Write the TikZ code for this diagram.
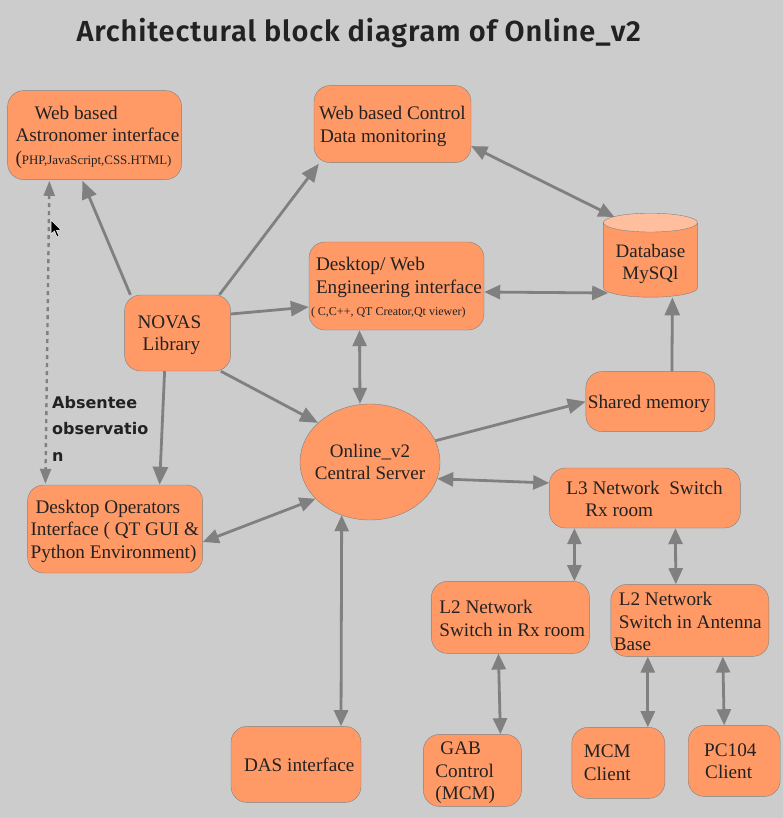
\documentclass[tikz,border=0pt]{standalone}
\usepackage{fontspec}
\setmainfont{Liberation Serif}
\newfontfamily\titlefont[LetterSpace=3]{Fira Sans SemiBold}
\newfontfamily\notefont{DejaVu Sans}
\usetikzlibrary{positioning,arrows.meta,shapes.geometric}
\definecolor{sheet}{HTML}{CCCCCC}
\definecolor{blockfill}{HTML}{FF9966}
\definecolor{blocktop}{HTML}{FFBF9F}
\definecolor{wire}{HTML}{808080}
\definecolor{ink}{HTML}{222222}
\newcommand{\ind}[1]{\hspace*{#1pt}}
\newcommand{\minor}[2][12.9]{\mbox{\fontsize{#1}{22.5}\selectfont #2}}

\begin{document}
\begin{tikzpicture}[
      x=1pt, y=-1pt,
      drop/.code={\def\dropht{#1}},
      blockbox/.style 2 args={draw=wire, fill=blockfill, text=ink, rounded corners=16pt, inner xsep=0pt, inner ysep=0pt,
        text width=#1, minimum height=#2, align=flush left, font=\fontsize{19.2}{22.5}\selectfont, drop=17.5pt,
        execute at begin node={\rule{0pt}{\dropht}}},
      hub/.style={draw=wire, fill=blockfill, text=ink, ellipse, inner xsep=-6pt, inner ysep=0pt, minimum width=140pt, minimum height=116pt,
        align=center, font=\fontsize{19}{22.5}\selectfont},
      store/.style={draw=wire, text=ink, cylinder, shape border rotate=90, aspect=0.27, cylinder uses custom fill,
        cylinder body fill=blockfill, cylinder end fill=blocktop, inner sep=0pt, minimum width=94pt, minimum height=84pt,
        align=center, font=\fontsize{19}{22.5}\selectfont},
      flow/.style={draw=wire, line width=2.8pt, -{Triangle[length=18pt,width=15pt]}},
      both/.style={draw=wire, line width=2.8pt, {Triangle[length=16pt,width=14pt]}-{Triangle[length=16pt,width=14pt]}},
      absent/.style={draw=wire, line width=2.4pt, dash pattern=on 4pt off 4pt, {Triangle[length=15pt,width=11pt]}-{Triangle[length=15pt,width=11pt]}}
    ]
    \fill[sheet] (0,0) rectangle (783,818);
    \useasboundingbox (0,0) rectangle (783,818);

    \node[anchor=west, text=ink, font=\titlefont\fontsize{29}{32}\selectfont] (title) at (73,33)
      {Architectural block diagram of Online\_v2};

    \node[hub] (server) at (370,462) {Online\_v2\\Central Server};
    \node[blockbox={106pt}{76pt}, left=69pt of server.west, yshift=129pt] (novas)
      {\ind{13}NOVAS\\\ind{18}Library};
    \node[blockbox={174pt}{89pt}, above=115pt of novas.north, xshift=-83pt] (astro)
      {\ind{27}Web based\\\ind{8}Astronomer interface\\\ind{8}(\minor{PHP,JavaScript,CSS.HTML)}};
    \node[blockbox={157pt}{77pt}, right=132pt of astro.east, yshift=11pt] (control)
      {\ind{5}Web based Control\\\ind{6}Data monitoring};
    \node[blockbox={175pt}{88pt}, right=78pt of novas.east, yshift=47pt] (desktop)
      {\ind{7}Desktop/ Web\\\ind{7}Engineering interface\\\ind{2}\minor[12]{( C,C++, QT Creator,Qt viewer)}};
    \node[store, right=119pt of desktop.east, yshift=26pt] (db) {\rule{0pt}{21pt}Database\\MySQl};
    \node[blockbox={129pt}{60pt}, below=74pt of db.south] (shared) {\ind{2}Shared memory};
    \node[blockbox={175pt}{88pt}, left=97pt of server.west, yshift=-67pt] (operators)
      {\ind{8}Desktop Operators\\\ind{3}Interface ( QT GUI \&\\\ind{3}Python Environment)};
    \node[blockbox={191pt}{60pt}, drop=15.5pt, right=109pt of server.east, yshift=-36pt] (lthree)
      {\ind{17}L3 Network\ \ Switch\\\ind{36}Rx room};
    \node[blockbox={158pt}{72pt}, drop=15.5pt, below=53pt of lthree.south, xshift=-134.5pt] (ltworx)
      {\ind{8}L2 Network\\\ind{8}Switch in Rx room};
    \node[blockbox={158pt}{72pt}, drop=15.5pt, right=21pt of ltworx.east, yshift=-3pt] (ltwoant)
      {\ind{8}L2 Network\\\ind{8}Switch in Antenna\\\ind{3}Base};
    \node[blockbox={130pt}{76pt}, drop=0pt, below=206pt of server.south, xshift=-74pt] (das) {\ind{13}DAS interface};
    \node[blockbox={98pt}{72pt}, right=62pt of das.east, yshift=-6pt] (gab)
      {\ind{17}GAB\\\ind{12}Control\\\ind{12}(MCM)};
    \node[blockbox={93pt}{71pt}, drop=0pt, right=50pt of gab.east, yshift=7.5pt] (mcm)
      {\ind{12}MCM\\\ind{12}Client};
    \node[blockbox={92pt}{71pt}, drop=13.5pt, right=23pt of mcm.east, yshift=2pt] (pcclient)
      {\ind{16}PC104\\\ind{17}Client};

    \node[anchor=north west, inner sep=0pt, align=left, text=ink, font=\notefont\fontsize{16}{26.5}\selectfont\bfseries] (note)
      at (52,396) {Absentee\\observatio\\n};

    \draw[flow] ([xshift=6pt]novas.north west) -- ([xshift=75pt,yshift=-1pt]astro.south west);
    \draw[flow] ([xshift=95pt]novas.north west) -- ([xshift=5pt,yshift=-1pt]control.south west);
    \draw[flow] ([yshift=19pt]novas.east) -- ([yshift=-21pt]desktop.west);
    \draw[flow] ([xshift=-10pt]novas.south east) -- (server.143);
    \draw[flow] ([xshift=-13pt]novas.south) -- ([xshift=44.5pt]operators.north);
    \draw[flow] (server.18) -- (shared.west);
    \draw[flow] ([xshift=21.5pt]shared.north) -- ([xshift=22pt]db.south);

    \draw[absent] ([xshift=42pt,yshift=-1pt]astro.south west) -- ([xshift=18pt,yshift=1pt]operators.north west);
    \draw[both] ([yshift=-22pt]control.east) -- ([shift={(-36pt,-4pt)}]db.north);
    \draw[both] ([yshift=-6pt]desktop.east) -- ([shift={(5pt,-33pt)}]db.west);
    \draw[both] ([xshift=-37pt]desktop.south) -- ([xshift=-10pt]server.north);
    \draw[both] (server.214) -- ([yshift=-13pt]operators.east);
    \draw[both] (server.-14) -- ([yshift=15pt]lthree.west);
    \draw[both] ([xshift=-70.5pt]lthree.south) -- ([xshift=64pt]ltworx.north);
    \draw[both] ([xshift=30.5pt]lthree.south) -- ([xshift=-14pt]ltwoant.north);
    \draw[both] ([xshift=-12pt]ltworx.south) -- ([xshift=28pt]gab.north);
    \draw[both] ([xshift=-42pt]ltwoant.south) -- ([xshift=29.5pt]mcm.north);
    \draw[both] ([xshift=33pt]ltwoant.south) -- ([xshift=-10pt]pcclient.north);
    \draw[both] ([xshift=45pt]das.north) -- (server.242);

    \fill[black, draw=white, line width=0.5pt] (51,220) -- (51,234) -- (54.5,231) -- (57,237) -- (59,236) -- (56.5,230.5) -- (61,230) -- cycle;
  \end{tikzpicture}
\end{document}
